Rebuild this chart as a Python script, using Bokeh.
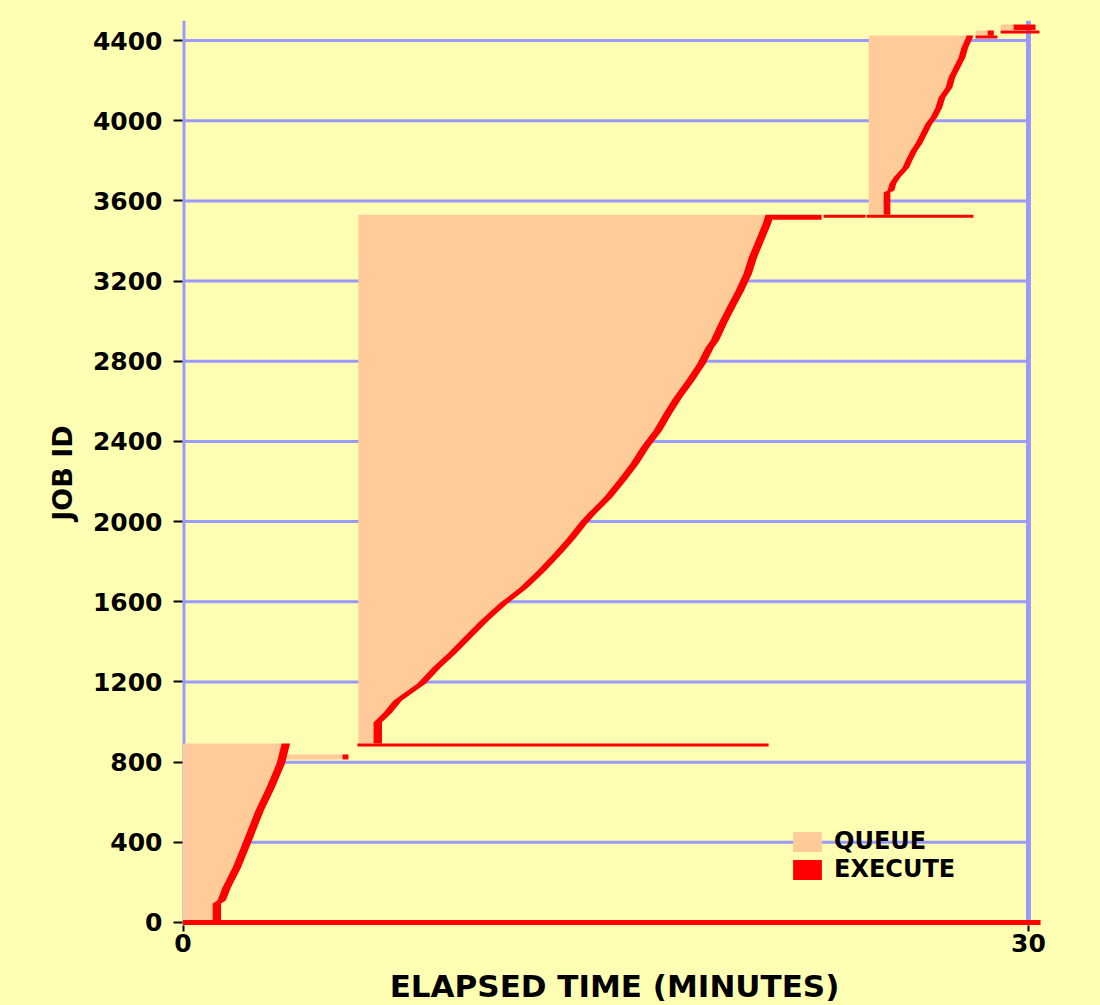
from bokeh.plotting import figure
from bokeh.models import Range1d, FixedTicker, Span, Legend, LegendItem
from bokeh.embed import file_html
from bokeh.resources import INLINE
import numpy as np

# ---------------- data (minutes / job ids) ----------------
X_TICKS = [0, 30]
Y_TICKS = [0, 400, 800, 1200, 1600, 2000, 2400, 2800, 3200, 3600, 4000, 4400]

# batch 1
B1_SUBMIT = 0.0
B1_JOBS = [0, 95, 110, 175, 274, 409, 559, 673, 793, 893]
B1_START = [1.05, 1.05, 1.22, 1.40, 1.76, 2.15, 2.57, 2.96, 3.32, 3.50]
B1_RUN = 0.30

# batch 2
B2_SUBMIT = 6.22
B2_JOBS = [893, 1000, 1008, 1023, 1048, 1108, 1192, 1272, 1342, 1422, 1507,
           1591, 1671, 1756, 1841, 1921, 1991, 2040, 2120, 2205, 2290, 2370,
           2455, 2539, 2619, 2704, 2789, 2869, 2903, 2988, 3068, 3153, 3238,
           3318, 3402, 3487, 3531]
B2_START = [6.76, 6.76, 6.83, 6.94, 7.12, 7.47, 8.32, 8.85, 9.39, 9.95, 10.55,
            11.22, 11.95, 12.58, 13.15, 13.65, 14.04, 14.36, 14.93, 15.42, 15.88,
            16.24, 16.70, 17.05, 17.41, 17.85, 18.25, 18.54, 18.72, 19.00, 19.29,
            19.61, 19.89, 20.07, 20.32, 20.57, 20.67]
B2_RUN = 0.30

# batch 3
B3_SUBMIT = 24.33
B3_JOBS = [3531, 3642, 3652, 3687, 3717, 3767, 3802, 3851, 3886, 3936, 3986,
           4016, 4066, 4116, 4166, 4216, 4265, 4315, 4365, 4410, 4425]
B3_START = [24.86, 24.86, 25.00, 25.07, 25.21, 25.53, 25.64, 25.82, 25.99, 26.17,
            26.35, 26.52, 26.70, 26.81, 27.06, 27.16, 27.34, 27.52, 27.62, 27.77,
            27.80]
B3_RUN = 0.24

# individual jobs (job id, number of jobs covered, submit, start, end)
SOLO_JOB = [0, 886, 826, 3519, 3524, 3524, 4437, 4418, 4466, 4443]
SOLO_COUNT = [24, 15, 25, 25, 15, 15, 25, 15, 28, 15]
SOLO_SUBMIT = [0.0, 6.19, 0.0, 20.92, 22.73, 24.26, 28.12, 28.12, 29.01, 29.01]
SOLO_START = [0.0, 6.19, 5.66, 20.92, 22.73, 24.26, 28.55, 28.12, 29.47, 29.01]
SOLO_END = [30.43, 20.78, 5.87, 22.66, 24.22, 28.05, 28.77, 28.90, 30.25, 30.39]

LEGEND_LABELS = ["QUEUE", "EXECUTE"]

# ---------------- styling ----------------
BG = "#FFFFB3"
QUEUE_C = "#FFCC99"
EXEC_C = "#FF0000"
GRID_C = "#9999FF"
FONT = "DejaVu Sans"

p = figure(frame_width=864, frame_height=905,
           x_range=Range1d(-0.018, 30.64), y_range=Range1d(-15, 4500),
           output_backend="svg", toolbar_location=None,
           min_border_left=182, min_border_top=20, min_border_right=40,
           min_border_bottom=10)
p.background_fill_color = BG
p.border_fill_color = BG
p.outline_line_color = None
p.grid.visible = False

# grid lines (only across 0..30 minutes)
p.segment(x0=[X_TICKS[0]] * len(Y_TICKS), x1=[X_TICKS[-1]] * len(Y_TICKS),
          y0=Y_TICKS, y1=Y_TICKS, line_color=GRID_C, line_width=3)
for xt in X_TICKS:
    p.add_layout(Span(location=xt, dimension="height", line_color=GRID_C,
                      line_width=5, level="underlay"))

# queue areas
batches = [(B1_SUBMIT, B1_JOBS, B1_START, B1_RUN),
           (B2_SUBMIT, B2_JOBS, B2_START, B2_RUN),
           (B3_SUBMIT, B3_JOBS, B3_START, B3_RUN)]
for sub, jobs, start, run in batches:
    p.harea(y=jobs, x1=[sub] * len(jobs), x2=start, fill_color=QUEUE_C)

q_idx = [i for i in range(len(SOLO_JOB)) if SOLO_START[i] > SOLO_SUBMIT[i]]
r_queue = p.hbar(y=[SOLO_JOB[i] for i in q_idx],
                 height=[SOLO_COUNT[i] for i in q_idx],
                 left=[SOLO_SUBMIT[i] for i in q_idx],
                 right=[SOLO_START[i] for i in q_idx],
                 fill_color=QUEUE_C, line_color=None)

# execution bands
for sub, jobs, start, run in batches:
    st = np.array(start)
    p.harea(y=jobs, x1=st, x2=st + run, fill_color=EXEC_C)

r_exec = p.hbar(y=SOLO_JOB, height=SOLO_COUNT, left=SOLO_START, right=SOLO_END,
                fill_color=EXEC_C, line_color=None)

# axes
xa = p.xaxis[0]
xa.ticker = FixedTicker(ticks=X_TICKS)
xa.axis_line_color = None
xa.major_tick_line_color = "black"
xa.major_tick_line_width = 2
xa.major_tick_out = 6
xa.major_tick_in = 0
xa.minor_tick_line_color = None
xa.major_label_text_font = FONT
xa.major_label_text_font_style = "bold"
xa.major_label_text_font_size = "25px"
xa.major_label_text_color = "black"
xa.major_label_standoff = 2
xa.axis_label = "ELAPSED TIME (MINUTES)"
xa.axis_label_text_font = FONT
xa.axis_label_text_font_style = "bold"
xa.axis_label_text_font_size = "31px"
xa.axis_label_text_color = "black"
xa.axis_label_standoff = 13

ya = p.yaxis[0]
ya.ticker = FixedTicker(ticks=Y_TICKS)
ya.axis_line_color = None
ya.major_tick_line_color = "black"
ya.major_tick_line_width = 2
ya.major_tick_out = 9
ya.major_tick_in = 0
ya.minor_tick_line_color = None
ya.major_label_text_font = FONT
ya.major_label_text_font_style = "bold"
ya.major_label_text_font_size = "25px"
ya.major_label_text_color = "black"
ya.major_label_standoff = 11
ya.axis_label = "JOB ID"
ya.axis_label_text_font = FONT
ya.axis_label_text_font_style = "bold"
ya.axis_label_text_font_size = "27px"
ya.axis_label_text_color = "black"
ya.axis_label_standoff = 12


def make_legend(label, renderer, loc):
    return Legend(items=[LegendItem(label=label, renderers=[renderer])],
                  location=loc, orientation="vertical",
                  glyph_width=36, glyph_height=25, label_height=20,
                  label_standoff=9, spacing=0, padding=0, margin=0,
                  background_fill_alpha=0, border_line_color=None,
                  label_text_font=FONT, label_text_font_style="bold",
                  label_text_font_size="24px", label_text_color="black")


p.add_layout(make_legend(LEGEND_LABELS[0], r_queue, (607, 70)), "center")
p.add_layout(make_legend(LEGEND_LABELS[1], r_exec, (607, 42)), "center")

html = file_html(p, INLINE)
html = html.replace("</head>", "<style>html,body{background:#FFFFB3;}</style></head>", 1)
open("out.html", "w").write(html)
